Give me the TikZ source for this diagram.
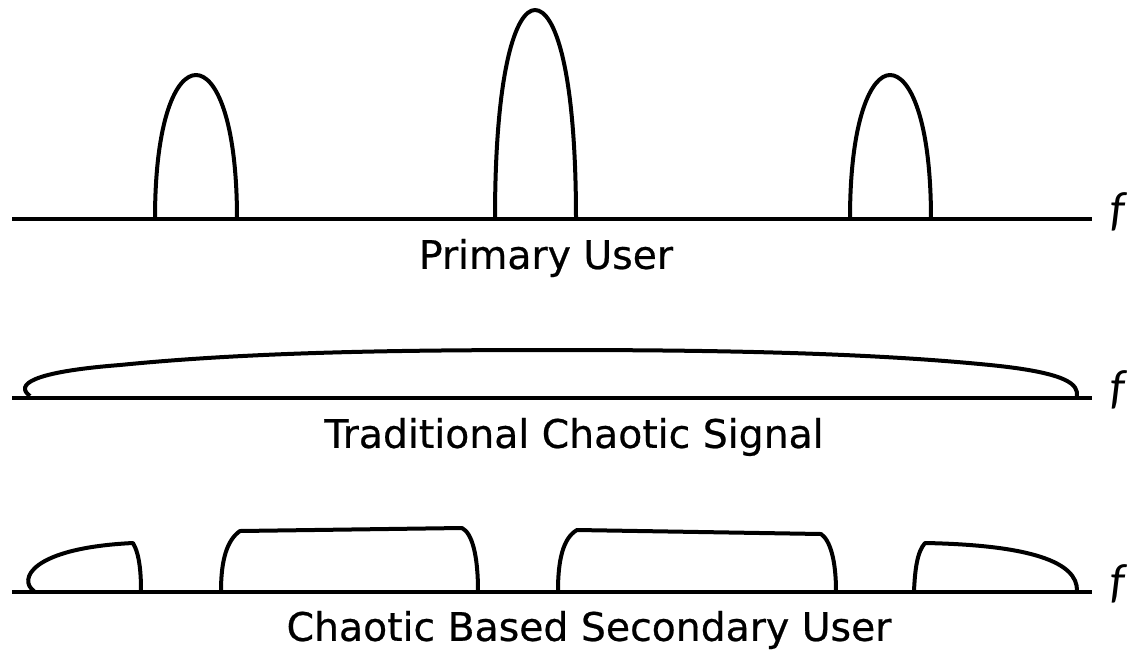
\documentclass[tikz,border=0pt]{standalone}
\usepackage{fontspec}
\setmainfont[FakeBold=0.6]{DejaVu Sans}
\newfontfamily\fvarfont{Carlito}
\usetikzlibrary{positioning}

\begin{document}
\begin{tikzpicture}[
  x=0.75pt, y=-0.75pt,
  axis/.style ={line width=3.2pt},
  band/.style ={line width=3pt, line join=round},
  lbl/.style  ={font=\fontsize{29.5}{31}\selectfont, inner sep=0pt},
  fvar/.style ={font=\fontsize{36}{38}\selectfont\fvarfont\itshape, inner sep=0pt}
]
\useasboundingbox (0,0) rectangle (1140,651);

% ---------- primary user ----------
\draw[axis] (12,219) -- (1092,219);
\node[fvar] (f1) at (1118,212) {f};
\draw[band] (155,219) .. controls (155,120) and (176,75) .. (196,75)
            .. controls (216,75) and (237,120) .. (237,219);
\draw[band] (495,219) .. controls (495,70) and (516,10) .. (535,10)
            .. controls (555,10) and (576,70) .. (576,219);
\draw[band] (850,219) .. controls (850,120) and (871,75) .. (890,75)
            .. controls (910,75) and (931,120) .. (931,219);
\node[lbl] (pu) at (546,258) {Primary User};

% ---------- traditional chaotic ----------
\draw[axis] (12,398) -- (1092,398);
\node[fvar] (f2) at (1118,390) {f};
\draw[band] (30,396) .. controls (15,385) and (30,372) .. (120,365)
            .. controls (250,352) and (400,350) .. (553,350)
            .. controls (700,350) and (860,352) .. (990,365)
            .. controls (1070,373) and (1078,385) .. (1077,396);
\node[lbl] (tc) at (574,437) {Traditional Chaotic Signal};

% ---------- chaotic based secondary ----------
\draw[axis] (12,592) -- (1092,592);
\node[fvar] (f3) at (1118,584) {f};
\draw[band] (34,591) .. controls (18,580) and (30,548) .. (133,543)
            .. controls (140,555) and (141,575) .. (141,591);
\draw[band] (221,591) .. controls (221,560) and (227,540) .. (240,531)
            -- (462,528) .. controls (472,533) and (478,555) .. (478,591);
\draw[band] (558,591) .. controls (558,560) and (563,538) .. (577,530)
            -- (821,534) .. controls (830,540) and (836,560) .. (836,591);
\draw[band] (914,591) .. controls (915,570) and (917,552) .. (925,543)
            .. controls (1030,545) and (1078,562) .. (1077,591);
\node[lbl] (sc) at (589,630) {Chaotic Based Secondary User};
\end{tikzpicture}
\end{document}
